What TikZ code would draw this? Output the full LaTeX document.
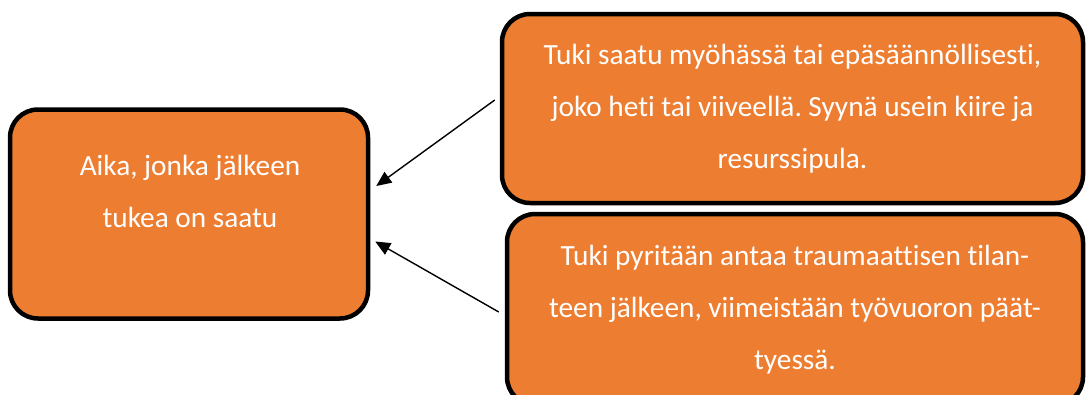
\documentclass[tikz,border=0pt]{standalone}
\usepackage{fontspec}
\setmainfont[Ligatures=NoCommon]{Carlito}
\usetikzlibrary{arrows.meta}
\definecolor{boxorange}{HTML}{ED7D31}
\frenchspacing
\begin{document}
\begin{tikzpicture}[x=1pt,y=-1pt,
  box/.style={draw=black, line width=4.5pt, fill=boxorange, rounded corners=28pt, inner sep=0pt},
  txt/.style={text=white, font=\fontsize{29.3}{52}\selectfont, align=center},
  arr/.style={-{Triangle[length=15pt,width=13pt]}, line width=1.4pt}]
\useasboundingbox (0,0) rectangle (1087,394);
\begin{scope}
\clip (0,0) rectangle (1087,394);
\node[box, minimum width=358pt, minimum height=209pt] (L) at (189,214) {};
\node[txt] (Lt) at (190,191.5) {Aika, jonka jälkeen\\tukea on saatu};
\node[box, txt, minimum width=581pt, minimum height=189pt] (T) at (792.5,108.5)
  {Tuki saatu myöhässä tai epäsäännöllisesti,\\joko heti tai viiveellä. Syynä usein kiire ja\\resurssipula.};
\node[box, txt, minimum width=576pt, minimum height=191pt] (B) at (795,309.5)
  {Tuki pyritään antaa traumaattisen tilan-\\teen jälkeen, viimeistään työvuoron päät-\\tyessä.};
\end{scope}
\draw[arr] ([xshift=-5pt,yshift=8.5pt]T.west) -- ([xshift=6pt,yshift=28pt]L.east);
\draw[arr] ([xshift=-6pt,yshift=-2.5pt]B.west) -- ([xshift=5pt,yshift=-27.5pt]L.east);
\end{tikzpicture}
\end{document}
